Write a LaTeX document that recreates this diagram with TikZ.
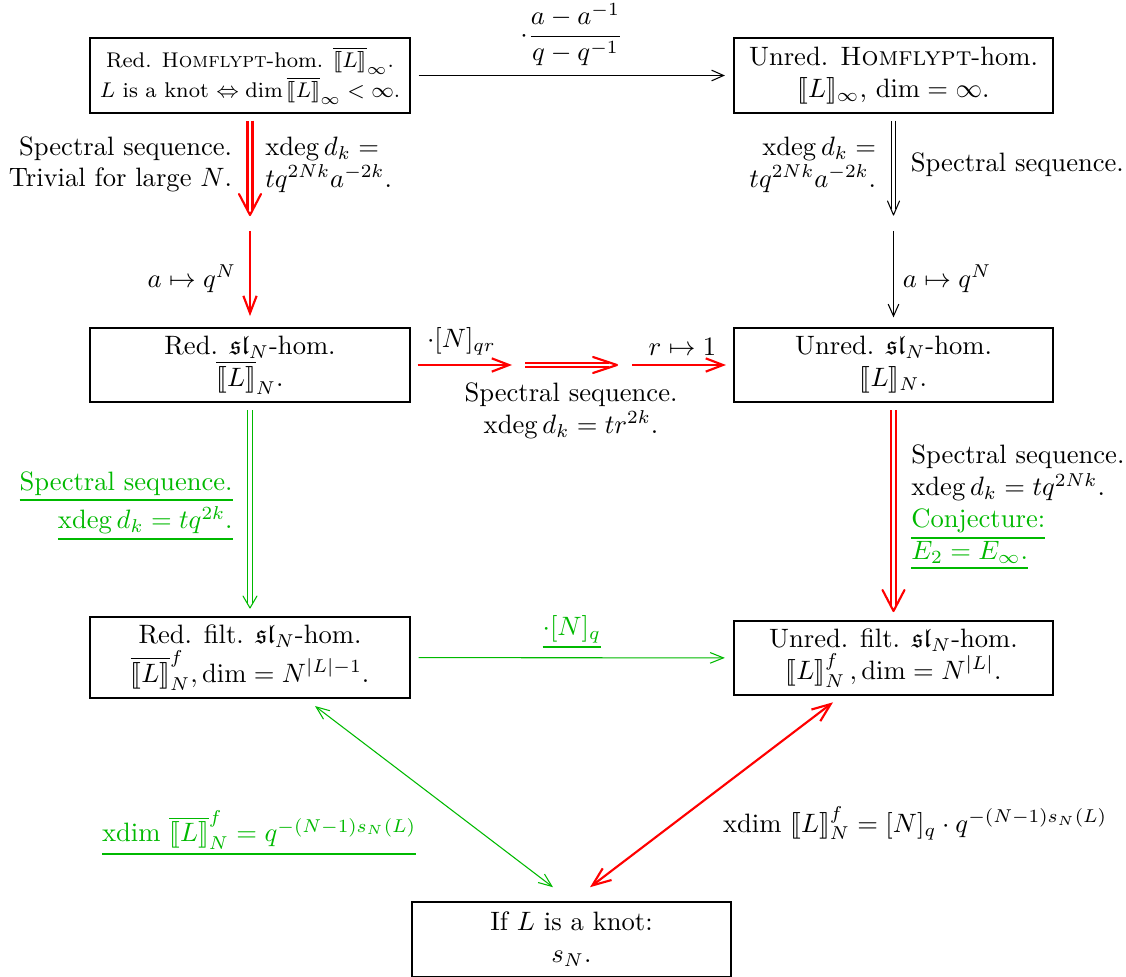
\documentclass[tikz,border=0pt]{standalone}
\usepackage{amsmath,amssymb,stmaryrd}
\usetikzlibrary{arrows.meta,calc}
\definecolor{grn}{RGB}{0,185,0}
\newcommand{\khom}{\llbracket L\rrbracket}
\newcommand{\rkhom}{\overline{\llbracket L\rrbracket}}
% underline with a heavier rule
\newcommand{\thul}[1]{\setbox0\hbox{#1}\leavevmode\vtop{\copy0\kern1.3pt\hrule height0.75pt width\wd0}}
\tikzset{
  box/.style={draw, line width=0.8pt, text width=113pt, align=flush center,
              inner xsep=3.5pt, inner ysep=3pt, minimum height=28pt},
  thinar/.style={line width=0.4pt, -{Straight Barb[length=4.5pt,width=4pt]}},
  redar/.style={draw=red, line width=0.8pt, -{Straight Barb[length=6.5pt,width=5pt]}},
  grnar/.style={draw=grn, line width=0.4pt, -{Straight Barb[length=5pt,width=4pt]}},
  % double shafts; their open heads are drawn as separate strokes
  blkdbl/.style={line width=0.4pt, double, double distance=1.2pt, shorten >=2.2pt},
  grndbl/.style={draw=grn, line width=0.4pt, double, double distance=1.2pt, shorten >=1.6pt},
  reddbl/.style={draw=red, line width=0.8pt, double, double distance=1.1pt, shorten >=1.8pt},
  blkhead/.style={line width=0.4pt, line cap=round, line join=round},
  grnhead/.style={draw=grn, line width=0.4pt, line cap=round, line join=round},
  redhead/.style={draw=red, line width=0.8pt, line cap=round, line join=round},
  gap/.style={shorten <=3pt, shorten >=3pt},
  glab/.style={text=grn}
}
\begin{document}
\begin{tikzpicture}[x=0.376pt, y=-0.376pt]
\useasboundingbox (0,0) rectangle (1126,976);

% boxes
\node[box, font=\footnotesize] (A) at (250,75.5) {Red. \textsc{Homflypt}-hom. $\rkhom_\infty$.\\
  $L$ is a knot $\Leftrightarrow \dim \rkhom_\infty < \infty$.};
\node[box] (B) at (893.5,75.5) {Unred. \textsc{Homflypt}-hom.\\ $\khom_\infty$, $\dim = \infty$.};
\node[box] (C) at (250,365) {Red. $\mathfrak{sl}_N$-hom.\\ $\rkhom_N$.};
\node[box] (D) at (893.5,365) {Unred. $\mathfrak{sl}_N$-hom.\\ $\khom_N$.};
\node[box] (E) at (250,657.5) {Red. filt. $\mathfrak{sl}_N$-hom.\\ $\rkhom^f_N, \dim = N^{|L|-1}$.};
\node[box] (F) at (893.5,658) {Unred. filt. $\mathfrak{sl}_N$-hom.\\ $\khom^f_N\,, \dim = N^{|L|}$.};
\node[box] (G) at (571.5,939.5) {If $L$ is a knot:\\ $s_N$.};

% break points and head positions of the composite arrows
\coordinate (q1) at (250,215);
\coordinate (q2) at (250,231);
\coordinate (r1) at (893.5,215);
\coordinate (r2) at (893.5,231);
\coordinate (p1) at (512,365);
\coordinate (p2) at (525,365);
\coordinate (p3) at (617,365);
\coordinate (p4) at (632,365);
\coordinate (t4) at (250,608);
\coordinate (t5) at (893.5,611);
\coordinate (e1) at ($(E.south)+(65,7)$);
\coordinate (g1) at ($(G.north)+(-18.5,-14)$);
\coordinate (f1) at ($(F.south)+(-60.5,6)$);
\coordinate (g2) at ($(G.north)+(18.5,-14)$);

% top row
\draw[thinar, gap] (A) -- node[midway, above] {$\cdot\dfrac{a-a^{-1}}{q-q^{-1}}$} (B);

% left column, top
\draw[reddbl, shorten <=2.6pt] (A) --
  node[midway, left=3pt, align=right, text=black] {Spectral sequence.\\ Trivial for large $N$.}
  node[midway, right=2pt, align=left, text=black] {$\operatorname{xdeg} d_k =$\\ $tq^{2Nk}a^{-2k}$.} (q1);
\draw[redhead] ($(q1)+(-11,-21)$) -- (q1) -- ($(q1)+(11,-21)$);
\draw[redar, shorten >=4pt] (q2) -- node[midway, left=1.5pt, text=black] {$a\mapsto q^N$} (C);

% right column, top
\draw[blkdbl, shorten <=2.6pt] (B) --
  node[midway, left=3pt, align=right] {$\operatorname{xdeg} d_k =$\\ $tq^{2Nk}a^{-2k}$.}
  node[midway, right=3pt, align=left] {Spectral sequence.} (r1);
\draw[blkhead] ($(r1)+(-6,-14)$) -- (r1) -- ($(r1)+(6,-14)$);
\draw[thinar, shorten >=3.5pt] (r2) -- node[midway, right=0pt] {$a\mapsto q^N$} (D);

% middle row
\draw[redar, shorten <=2.6pt] (C) -- node[midway, above, text=black] {$\cdot[N]_{qr}$} (p1);
\draw[reddbl, double distance=0.7pt, shorten >=3.2pt] (p2) --
  node[midway, below=3pt, align=center, text=black] {Spectral sequence.\\ $\operatorname{xdeg} d_k = tr^{2k}$.} (p3);
\draw[redhead] ($(p3)+(-24,-8)$) -- (p3) -- ($(p3)+(-24,8)$);
\draw[redar, shorten >=2.6pt] (p4) -- node[midway, above, text=black] {$r\mapsto 1$} (D);

% left column, bottom
\draw[grndbl, shorten <=2.6pt] (C) --
  node[midway, left=3pt, align=right, glab] {\thul{Spectral sequence.}\\[1pt] \thul{$\operatorname{xdeg} d_k = tq^{2k}$.}} (t4);
\draw[grnhead] ($(t4)+(-7,-12)$) -- (t4) -- ($(t4)+(7,-12)$);

% right column, bottom
\draw[reddbl, shorten <=2.6pt] (D) --
  node[midway, right=3pt, align=left, text=black] {Spectral sequence.\\ $\operatorname{xdeg} d_k = tq^{2Nk}$.\\
  \textcolor{grn}{\thul{Conjecture:}}\\ \textcolor{grn}{\thul{$E_2 = E_\infty$.}}} (t5);
\draw[redhead] ($(t5)+(-11,-21)$) -- (t5) -- ($(t5)+(11,-21)$);

% bottom row
\draw[grnar, gap] (E) -- node[midway, above, glab] {\thul{$\cdot[N]_q$}} (F);

% diagonals to the knot box
\draw[draw=grn, line width=0.4pt, {Straight Barb[length=5pt,width=4pt]}-{Straight Barb[length=5pt,width=4pt]}] (e1) --
  node[pos=0.7, left=21pt, glab] {\thul{xdim $\rkhom^f_N = q^{-(N-1)s_N(L)}$}} (g1);
\draw[draw=red, line width=0.8pt, {Straight Barb[length=7pt,width=5.5pt]}-{Straight Barb[length=7pt,width=5.5pt]}] (f1) --
  node[pos=0.654, right=14.7pt, text=black] {xdim $\khom^f_N = [N]_q \cdot q^{-(N-1)s_N(L)}$} (g2);
\end{tikzpicture}
\end{document}
